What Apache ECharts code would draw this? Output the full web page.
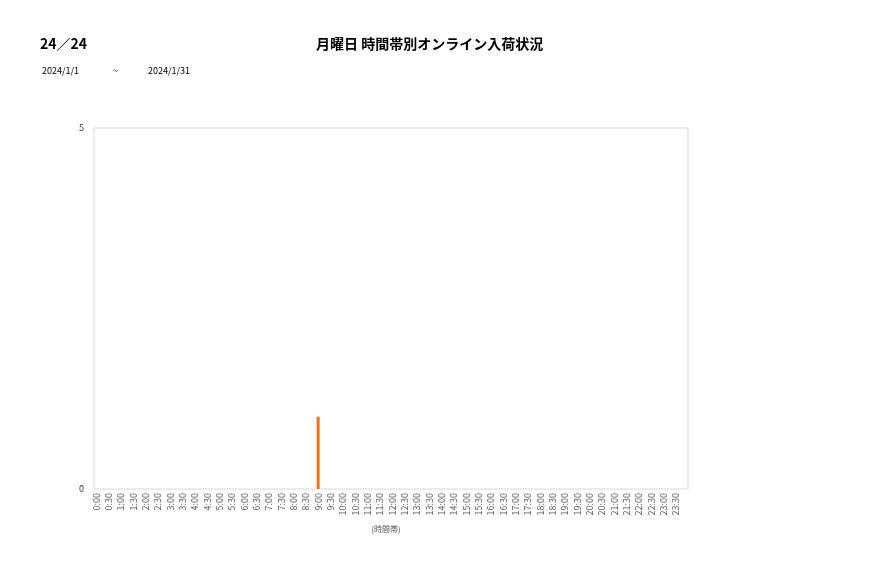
<!DOCTYPE html>
<html lang="ja">
  <head>
    <meta charset="UTF-8" />
    <title>月曜日 時間帯別オンライン入荷状況</title>
    <script src="https://cdn.jsdelivr.net/npm/echarts@6/dist/echarts.min.js"></script>
    <style>
      body { margin: 0; background: #fff; }
    </style>
  </head>
  <body>
    <div id="main" style="width: 877px;height:578px;"></div>
    <script type="text/javascript">
      var jpFont = '"Noto Sans CJK JP", "Noto Sans", sans-serif'

      // 時間帯 0:00 ～ 23:30（30分刻み）
      var timeSlots = [
        '0:00', '0:30', '1:00', '1:30', '2:00', '2:30', '3:00', '3:30',
        '4:00', '4:30', '5:00', '5:30', '6:00', '6:30', '7:00', '7:30',
        '8:00', '8:30', '9:00', '9:30', '10:00', '10:30', '11:00', '11:30',
        '12:00', '12:30', '13:00', '13:30', '14:00', '14:30', '15:00', '15:30',
        '16:00', '16:30', '17:00', '17:30', '18:00', '18:30', '19:00', '19:30',
        '20:00', '20:30', '21:00', '21:30', '22:00', '22:30', '23:00', '23:30'
      ]
      // 入荷件数（9:00 のみ 1件）
      var arrivals = [
        0, 0, 0, 0, 0, 0, 0, 0,
        0, 0, 0, 0, 0, 0, 0, 0,
        0, 0, 1, 0, 0, 0, 0, 0,
        0, 0, 0, 0, 0, 0, 0, 0,
        0, 0, 0, 0, 0, 0, 0, 0,
        0, 0, 0, 0, 0, 0, 0, 0
      ]
      var yMin = 0
      var yMax = 5

      var myChart = echarts.init(document.getElementById('main'))

      var option = {
        backgroundColor: '#fff',
        animation: false,
        textStyle: { fontFamily: jpFont },
        title: [
          {
            text: '24／24',
            left: 35,
            top: 32,
            textStyle: { fontSize: 14, fontWeight: 'bold', color: '#000', fontFamily: jpFont }
          },
          {
            text: '月曜日 時間帯別オンライン入荷状況',
            left: 311,
            top: 32,
            textStyle: { fontSize: 14, fontWeight: 'bold', color: '#000', fontFamily: jpFont }
          },
          {
            text: '2024/1/1',
            left: 37,
            top: 61,
            textStyle: { fontSize: 9, fontWeight: 'normal', color: '#000', fontFamily: jpFont }
          },
          {
            text: '~',
            left: 108,
            top: 61,
            textStyle: { fontSize: 9, fontWeight: 'normal', color: '#000', fontFamily: jpFont }
          },
          {
            text: '2024/1/31',
            left: 143,
            top: 61,
            textStyle: { fontSize: 9, fontWeight: 'normal', color: '#000', fontFamily: jpFont }
          }
        ],
        grid: [
          // 枠と縦軸ラベル用
          {
            left: 94,
            top: 128,
            width: 594,
            height: 361,
            show: true,
            borderColor: '#d9d9d9',
            borderWidth: 1,
            backgroundColor: 'transparent'
          },
          // 棒グラフ・横軸用
          {
            left: 90,
            top: 128,
            width: 592,
            height: 361
          }
        ],
        xAxis: [
          {
            gridIndex: 0,
            type: 'category',
            data: timeSlots,
            show: false
          },
          {
            gridIndex: 1,
            type: 'category',
            data: timeSlots,
            name: '(時間帯)',
            nameLocation: 'middle',
            nameGap: 36,
            nameTextStyle: { fontSize: 8, color: '#595959' },
            axisLine: { show: false },
            axisTick: { show: false },
            axisLabel: {
              interval: 0,
              rotate: 90,
              fontSize: 9,
              color: '#595959',
              margin: 4
            }
          }
        ],
        yAxis: [
          {
            gridIndex: 0,
            type: 'value',
            min: yMin,
            max: yMax,
            interval: 5,
            axisLine: { show: false },
            axisTick: { show: false },
            splitLine: { show: false },
            axisLabel: { fontSize: 9, color: '#404040', margin: 10 }
          },
          {
            gridIndex: 1,
            type: 'value',
            min: yMin,
            max: yMax,
            show: false
          }
        ],
        series: [
          {
            type: 'bar',
            xAxisIndex: 1,
            yAxisIndex: 1,
            data: arrivals,
            barWidth: 3,
            itemStyle: { color: '#f0701a' }
          }
        ]
      }

      myChart.setOption(option)
    </script>
  </body>
</html>
